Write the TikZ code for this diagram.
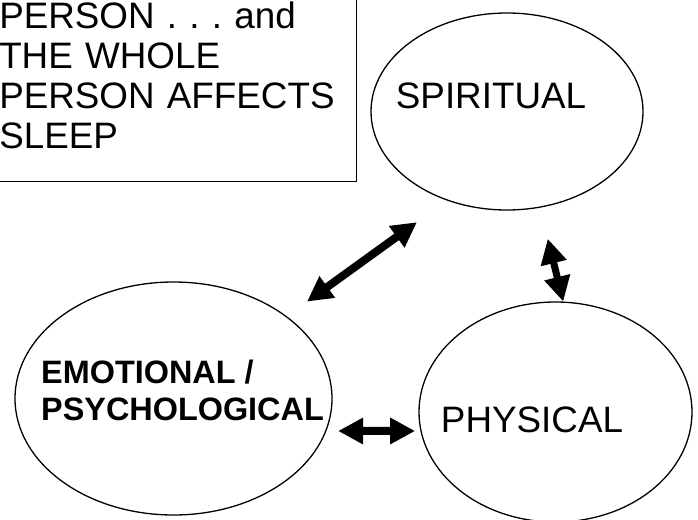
\documentclass[tikz,border=0pt]{standalone}
\usepackage{fontspec}
\setmainfont{Liberation Sans}
\usetikzlibrary{arrows.meta,positioning,shapes.geometric}
\frenchspacing

\begin{document}
\begin{tikzpicture}[x=1pt,y=-1pt,>={Triangle[length=25pt,width=25pt]}]
\useasboundingbox (0,0) rectangle (698,519);

\tikzset{area/.style={ellipse, draw, line width=1.3pt, inner sep=0pt},
  bigtext/.style={font=\fontsize{36.8pt}{40pt}\selectfont, inner sep=0pt},
  link/.style={<->, line width=8pt}}

\node (note) [rectangle, draw, line width=1.5pt, align=left, text width=347pt,
  inner xsep=10pt, inner ysep=32pt, anchor=south east,
  font=\fontsize{36.8pt}{40pt}\selectfont] at (357,182)
{PERSON . . . and\\ THE WHOLE\\ PERSON AFFECTS\\ SLEEP};

\node (spirit) [area, minimum width=272pt, minimum height=197pt] at (507,111.5) {};
\node (phys) [area, minimum width=273pt, minimum height=220pt] at (555.5,412) {};
\node (emot) [area, minimum width=317pt, minimum height=233pt] at (173.5,398.5) {};

\node (spirittxt) [bigtext, anchor=base] at (491,108) {SPIRITUAL};
\node (phystxt) [bigtext, anchor=base] at (532,432) {PHYSICAL};
\node (emottxt) [anchor=west, align=left, inner sep=0pt,
  font=\bfseries\fontsize{32.4pt}{37pt}\selectfont] at (41,390)
{EMOTIONAL /\\ PSYCHOLOGICAL};

\draw[link, shorten <=37pt, shorten >=25pt] (spirit.236) -- (emot.36);
\draw[link, line width=7pt, shorten <=32pt] (spirit.289) -- (phys.86);
\draw[link, shorten <=11.7pt, shorten >=5.3pt] (emot.348) -- (phys.188);

\end{tikzpicture}
\end{document}
